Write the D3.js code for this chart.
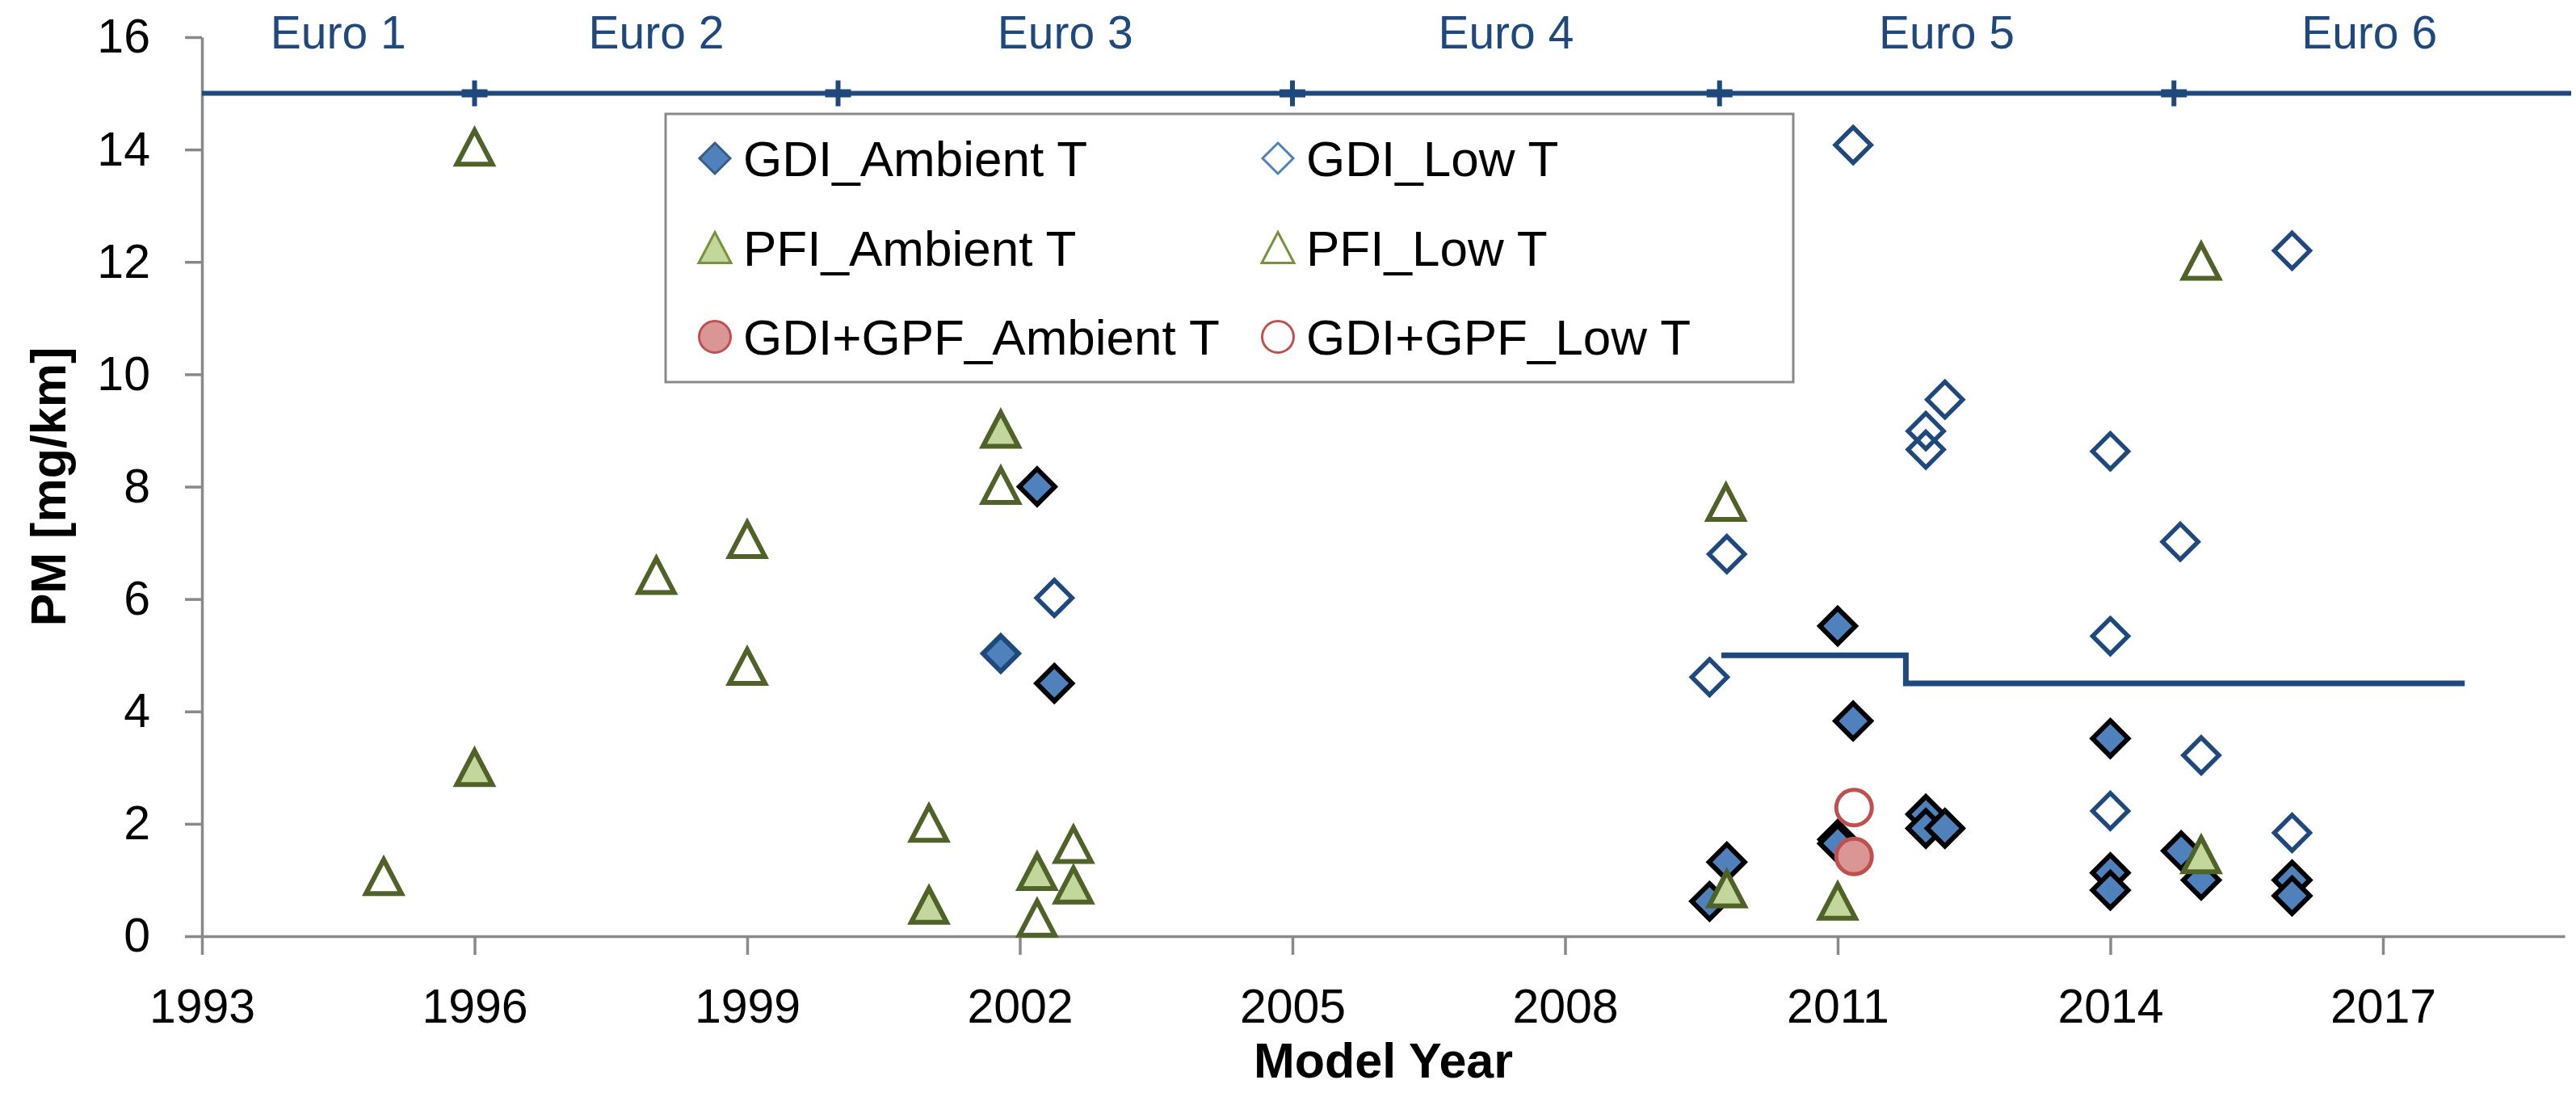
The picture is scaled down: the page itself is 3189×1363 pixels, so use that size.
<!DOCTYPE html>
<html>
<head>
<meta charset="utf-8">
<script src="https://cdn.jsdelivr.net/npm/d3@7"></script>
<style>
  body { margin: 0; background: #fff; }
  svg { display: block; }
</style>
</head>
<body>
<svg id="chart" width="3189" height="1363"></svg>
<script>
// [model year, PM mg/km]
var gdiAmbient = [
  [2002.19, 8.0], [2002.38, 4.5], [2009.59, 0.62], [2009.78, 1.32], [2011.0, 5.52],
  [2011.17, 3.83], [2011.0, 1.72], [2011.0, 1.65], [2011.97, 2.17], [2011.97, 1.92],
  [2012.18, 1.92], [2014.0, 3.52], [2014.0, 1.13], [2014.0, 0.82], [2014.78, 1.52],
  [2015.0, 1.0], [2016.0, 1.0], [2016.0, 0.72]
];
var gdiAmbientPlainEdge = [[2001.79, 5.03]];
var gdiLow = [
  [2002.38, 6.02], [2009.59, 4.61], [2009.78, 6.8], [2011.17, 14.08], [2011.97, 8.99],
  [2011.97, 8.66], [2012.18, 9.55], [2014.0, 8.63], [2014.0, 5.34], [2014.0, 2.23],
  [2014.77, 7.02], [2015.0, 3.22], [2016.0, 12.2], [2016.0, 1.84]
];
var pfiAmbient = [
  [1996, 3.0], [2001, 0.55], [2001.79, 9.02], [2002.19, 1.15], [2002.59, 0.91],
  [2009.78, 0.84], [2011.0, 0.62], [2015.0, 1.45]
];
var pfiLow = [
  [1995, 1.06], [1996, 14.04], [1998, 6.42], [1999, 7.06], [1999, 4.8], [2001, 2.01],
  [2001.79, 8.02], [2002.19, 0.32], [2002.59, 1.63], [2009.77, 7.72], [2015, 12.01]
];
var gpfAmbient = [[2011.18, 1.42]];
var gpfLow = [[2011.18, 2.29]];

// Euro standards band along the top
var euroLevel = 15;
var euroStart = 1993, euroEnd = 2019;
var euroBounds = [1996, 2000, 2005, 2009.7, 2014.7];
var euroLabels = ["Euro 1", "Euro 2", "Euro 3", "Euro 4", "Euro 5", "Euro 6"];

// Euro 5 / 5b PM limit
var pmLimit = [[2009.72, 5.0], [2011.75, 4.5], [2017.9, 4.5]];

var xTicks = d3.range(1993, 2018, 3);
var yTicks = d3.range(0, 17, 2);

var legendLabels = ["GDI_Ambient T", "GDI_Low T", "PFI_Ambient T", "PFI_Low T",
                    "GDI+GPF_Ambient T", "GDI+GPF_Low T"];

var font = "'Liberation Sans', Arial, sans-serif";
var blue = "#1F497D";
var olive = "#4F6228";
var gray = "#898989";

var svg = d3.select("#chart");

var xScale = d3.scaleLinear().domain([1993, 2019]).range([250, 3175]);
var yScale = d3.scaleLinear().domain([0, 16]).range([1159, 46]);

// axes
var xAxis = d3.axisBottom(xScale)
              .tickValues(xTicks)
              .tickFormat(d3.format("d"))
              .tickSize(23)
              .tickSizeOuter(0)
              .tickPadding(42);
var gx = svg.append("g")
            .attr("transform", "translate(0," + yScale(0) + ")")
            .call(xAxis);

var yAxis = d3.axisLeft(yScale)
              .tickValues(yTicks)
              .tickSize(21)
              .tickSizeOuter(0)
              .tickPadding(43);
var gy = svg.append("g")
            .attr("transform", "translate(" + xScale(1993) + ",0)")
            .call(yAxis);

[gx, gy].forEach(function(g) {
  g.attr("font-family", font).attr("font-size", 59);
  g.select(".domain").attr("stroke", gray).attr("stroke-width", 3.5);
  g.selectAll(".tick line").attr("stroke", gray).attr("stroke-width", 3.5);
  g.selectAll(".tick text").attr("fill", "#000");
});

// axis titles
svg.append("text")
   .attr("transform", "translate(81," + ((yScale(0) + yScale(16)) / 2) + ") rotate(-90)")
   .attr("text-anchor", "middle")
   .attr("font-family", font)
   .attr("font-weight", "bold")
   .attr("font-size", 61)
   .text("PM [mg/km]");

svg.append("text")
   .attr("x", (xScale(1993) + xScale(2019)) / 2)
   .attr("y", 1334)
   .attr("text-anchor", "middle")
   .attr("font-family", font)
   .attr("font-weight", "bold")
   .attr("font-size", 61)
   .text("Model Year");

// Euro line with + markers and labels
svg.append("line")
   .attr("x1", xScale(euroStart)).attr("x2", xScale(euroEnd) + 8)
   .attr("y1", yScale(euroLevel)).attr("y2", yScale(euroLevel))
   .attr("stroke", blue)
   .attr("stroke-width", 6);

var plus = svg.selectAll(".euro-plus")
   .data(euroBounds)
   .enter().append("g")
   .attr("class", "euro-plus")
   .attr("transform", function(d) { return "translate(" + xScale(d) + "," + yScale(euroLevel) + ")"; });
plus.append("path")
    .attr("d", "M0,-16V16")
    .attr("stroke", blue)
    .attr("stroke-width", 6);
plus.append("path")
    .attr("d", "M-16,0H16")
    .attr("stroke", blue)
    .attr("stroke-width", 10);

var edges = [euroStart].concat(euroBounds, [euroEnd]);
svg.selectAll(".euro-label")
   .data(euroLabels)
   .enter().append("text")
   .attr("class", "euro-label")
   .attr("x", function(d, i) { return xScale((edges[i] + edges[i + 1]) / 2); })
   .attr("y", 60)
   .attr("text-anchor", "middle")
   .attr("font-family", font)
   .attr("font-size", 57)
   .attr("fill", blue)
   .text(function(d) { return d; });

// PM limit step
svg.append("path")
   .datum(pmLimit)
   .attr("fill", "none")
   .attr("stroke", blue)
   .attr("stroke-width", 7)
   .attr("d", d3.line()
                .curve(d3.curveStepAfter)
                .x(function(d) { return xScale(d[0]); })
                .y(function(d) { return yScale(d[1]); }));

// marker shapes
function diamond(h) { return "M0," + (-h) + "L" + h + ",0L0," + h + "L" + (-h) + ",0Z"; }
function triangle(w, h) { return "M0," + (-h) + "L" + w + "," + h + "L" + (-w) + "," + h + "Z"; }
function circle(r) { return "M" + (-r) + ",0A" + r + "," + r + " 0 1,0 " + r + ",0A" + r + "," + r + " 0 1,0 " + (-r) + ",0Z"; }

function drawPoints(data, shape, fill, stroke, width) {
  svg.append("g")
     .selectAll("path")
     .data(data)
     .enter().append("path")
     .attr("transform", function(d) { return "translate(" + xScale(d[0]) + "," + yScale(d[1]) + ")"; })
     .attr("d", shape)
     .attr("fill", fill)
     .attr("stroke", stroke)
     .attr("stroke-width", width)
     .attr("stroke-linejoin", "miter");
}

drawPoints(gdiAmbientPlainEdge, diamond(22), "#4F81BD", blue, 6);
drawPoints(gdiAmbient, diamond(22), "#4F81BD", "#000", 6);
drawPoints(gdiLow, diamond(22), "none", blue, 5.5);
drawPoints(pfiLow, triangle(22, 21), "none", olive, 6);
drawPoints(pfiAmbient, triangle(22, 21), "#C3D69B", olive, 6);
drawPoints(gpfAmbient, circle(22), "#D99694", "#C0504D", 5);
drawPoints(gpfLow, circle(22), "none", "#C0504D", 5);

// legend
var legend = svg.append("g");
legend.append("rect")
      .attr("x", 824).attr("y", 141)
      .attr("width", 1396).attr("height", 332)
      .attr("fill", "#fff")
      .attr("stroke", gray)
      .attr("stroke-width", 3);

var legendShapes = [
  { d: diamond(19), fill: "#4F81BD", stroke: "#385D8A" },
  { d: diamond(19), fill: "none", stroke: "#4F81BD" },
  { d: triangle(20, 19), fill: "#C3D69B", stroke: "#77933C" },
  { d: triangle(20, 19), fill: "none", stroke: "#77933C" },
  { d: circle(19.5), fill: "#D99694", stroke: "#C0504D" },
  { d: circle(19.5), fill: "none", stroke: "#C0504D" }
];

legendLabels.forEach(function(label, i) {
  var col = i % 2, row = Math.floor(i / 2);
  var mx = 885 + col * 697, my = 196 + row * 110.5;
  legend.append("path")
        .attr("transform", "translate(" + mx + "," + my + ")")
        .attr("d", legendShapes[i].d)
        .attr("fill", legendShapes[i].fill)
        .attr("stroke", legendShapes[i].stroke)
        .attr("stroke-width", 3);
  legend.append("text")
        .attr("x", mx + 35)
        .attr("y", my + 22)
        .attr("font-family", font)
        .attr("font-size", 62)
        .text(label);
});
</script>
</body>
</html>
